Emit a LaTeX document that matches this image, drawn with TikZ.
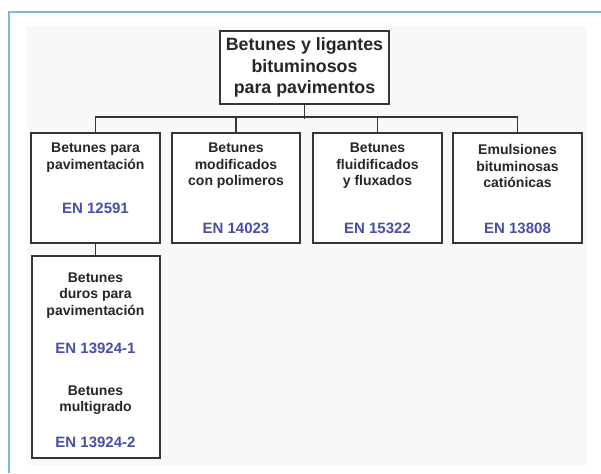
\documentclass[tikz,border=0pt]{standalone}
\usepackage{fontspec}
\setmainfont{Liberation Sans}
\usetikzlibrary{positioning}

\definecolor{marco}{HTML}{7BBBCF}
\definecolor{fondo}{HTML}{F8F8F6}
\definecolor{borde}{HTML}{353535}
\definecolor{azulen}{HTML}{4A4EA4}

\begin{document}
\begin{tikzpicture}[x=1pt, y=-1pt,
  caja/.style={draw=borde, line width=2pt, fill=white, inner sep=0pt},
  rama/.style={draw=borde, line width=1.6pt},
  txt/.style={font=\fontsize{14}{16.5}\selectfont\bfseries, align=center, text=black!85, inner sep=0pt},
  norma/.style={font=\fontsize{15}{16}\selectfont\bfseries, text=azulen, inner sep=0pt}]

\useasboundingbox (0,0) rectangle (601,473);

% frame and panel
\fill[white] (0,0) rectangle (601,473);
\draw[marco, line width=2pt] (9,473) -- (9,12) -- (601,12);
\fill[fondo] (27,26) rectangle (587,465);

% top box
\node[caja, minimum width=169, minimum height=73, align=center,
      font=\fontsize{17.8}{21.5}\selectfont\bfseries, text=black!85] (raiz) at (304.5,67.5)
      {Betunes y ligantes\\bituminosos\\para pavimentos};

% boxes
\node[caja, minimum width=129, minimum height=110] (b1) at (95.5,188) {};
\node[caja, minimum width=128, minimum height=110] (b2) at (236,188) {};
\node[caja, minimum width=129, minimum height=110] (b3) at (377.5,188) {};
\node[caja, minimum width=129, minimum height=110] (b4) at (517.5,188) {};
\node[caja, minimum width=128, minimum height=202] (b5) at (95.5,357) {};

% connectors
\draw[rama] (raiz.south) -- ++(0,14);
\draw[rama] (b1.north) -- ++(0,-15) -| (b4.north);
\draw[rama] (b2.north) -- ++(0,-15);
\draw[rama] (b3.north) -- ++(0,-15);
\draw[rama] (b1.south) -- (b5.north);

% texts
\node[txt] (t1) at (95.5,157.5) {Betunes para\\pavimentación};
\node[norma] (n1) at (95.5,208) {EN 12591};
\node[txt] (t2) at (236,166) {Betunes\\modificados\\con polimeros};
\node[norma] (n2) at (236,228) {EN 14023};
\node[txt] (t3) at (377.5,166) {Betunes\\fluidificados\\y fluxados};
\node[norma] (n3) at (377.5,228) {EN 15322};
\node[txt] (t4) at (517.5,166) {Emulsiones\\bituminosas\\catiónicas};
\node[norma] (n4) at (517.5,228) {EN 13808};
\node[txt] (t5) at (95.5,295.5) {Betunes\\duros para\\pavimentación};
\node[norma] (n5) at (95.5,348) {EN 13924-1};
\node[txt] (t6) at (95.5,400) {Betunes\\multigrado};
\node[norma] (n6) at (95.5,442) {EN 13924-2};
\end{tikzpicture}
\end{document}
